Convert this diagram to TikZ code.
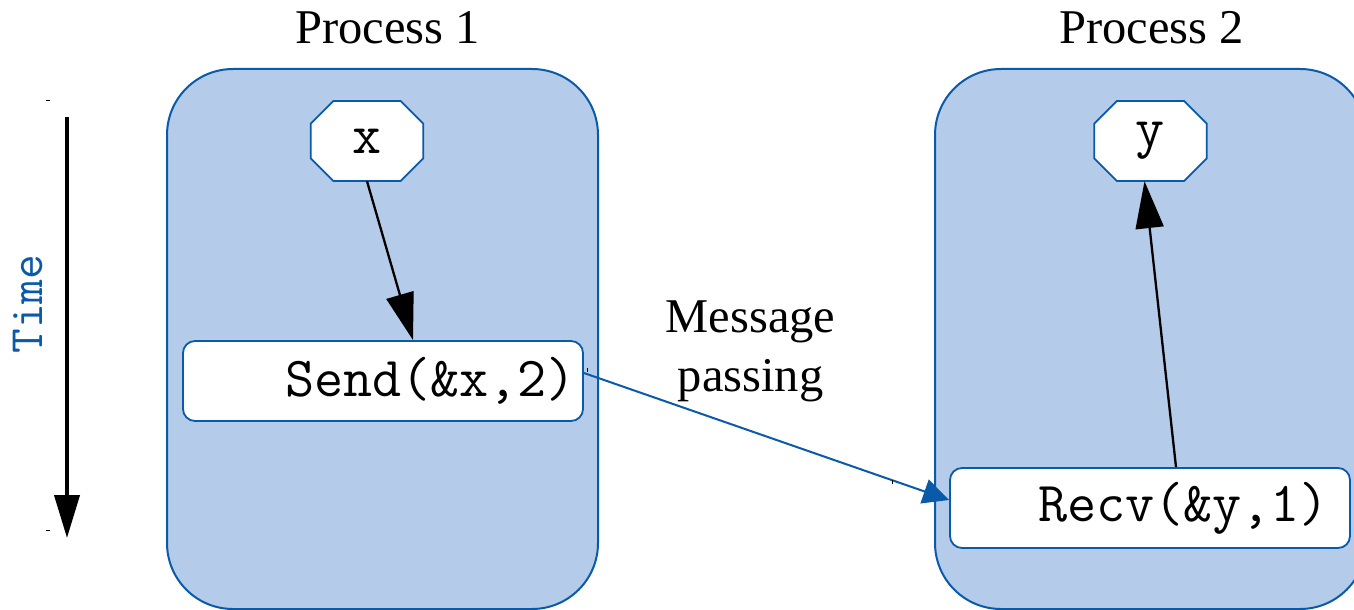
\documentclass[tikz,border=0pt]{standalone}
\usepackage{fontspec}
\setmainfont{Liberation Serif}
\usetikzlibrary{arrows.meta}
\definecolor{pfill}{RGB}{180,203,233}
\definecolor{pline}{RGB}{10,90,170}
\begin{document}
\begin{tikzpicture}[x=1pt,y=-1pt,
  proc/.style={draw=pline, fill=pfill, line width=2pt, rounded corners=66pt,
    minimum width=431pt, minimum height=540pt, inner sep=0pt},
  octo/.style={draw=pline, fill=white, line width=1.8pt},
  varnode/.style={minimum width=113pt, minimum height=80pt, inner sep=0pt,
    font=\fontsize{56.5}{60}\selectfont\ttfamily},
  callbox/.style={draw=pline, fill=white, line width=1.8pt, rounded corners=12pt,
    minimum height=80pt, inner ysep=0pt, align=right,
    font=\fontsize{56.5}{60}\selectfont\ttfamily},
  titletext/.style={font=\fontsize{48.5}{58}\selectfont, anchor=base, inner sep=0pt},
  blk/.style={line width=2.3pt, -{Triangle[length=47pt,width=28pt]}},
  msg/.style={draw=pline, line width=2pt, -{Triangle[length=26pt,width=25pt,fill=pline]}},
  timearrow/.style={line width=4pt, -{Triangle[length=43pt,width=25pt]}},
  tick/.style={line width=1pt}
]
\useasboundingbox (0,0) rectangle (1354,610);

% process boxes
\node[proc] (p1) at (382.5,339) {};
\node[proc] (p2) at (1150.5,339) {};

% titles
\node[titletext] (t1) at (387.5,43.5) {Process 1};
\node[titletext] (t2) at (1151.5,43.5) {Process 2};

% octagons
\path[octo, shift={(367,141)}] (-33.6,-40) -- (33.6,-40) -- (56.3,-17.3) -- (56.3,17.3)
  -- (33.6,40) -- (-33.6,40) -- (-56.3,17.3) -- (-56.3,-17.3) -- cycle;
\node[varnode] (x) at (367,141) {x};
\path[octo, shift={(1150.5,141)}] (-33.6,-40) -- (33.6,-40) -- (56.3,-17.3) -- (56.3,17.3)
  -- (33.6,40) -- (-33.6,40) -- (-56.3,17.3) -- (-56.3,-17.3) -- cycle;
\node[varnode] (y) at (1150.5,141) {y};

% call boxes
\node[callbox, text width=386pt, inner xsep=7pt] (send) at (383,381) {Send(\&x,2)};
\node[callbox, text width=358pt, inner xsep=21pt] (recv) at (1150,508) {Recv(\&y,1)};

% arrows
\draw[blk] (x.south) -- ([xshift=30pt]send.north);
\draw[blk] ([xshift=26pt]recv.north) -- ([xshift=-6pt]y.south);
\draw[msg] ([yshift=8pt]send.east) -- ([yshift=8pt]recv.west);

% message label
\node[font=\fontsize{48.5}{59}\selectfont, align=center, inner sep=0pt] (ml) at (750.5,351) {Message\\passing};

% time axis
\coordinate (ts) at (67,117);
\coordinate (te) at (67,538);
\draw[timearrow] (ts) -- (te);
\node[rotate=90, anchor=base, inner sep=0pt, text=pline, font=\fontsize{48}{52}\selectfont\ttfamily] (tl) at (42,304) {Time};

% small marks
\draw[tick] (46,100) -- (50,100);
\draw[tick] (46,530) -- (50,530);
\draw[tick] (587.5,368) -- (587.5,372);
\draw[tick] (892.5,480) -- (892.5,484);
\end{tikzpicture}
\end{document}
